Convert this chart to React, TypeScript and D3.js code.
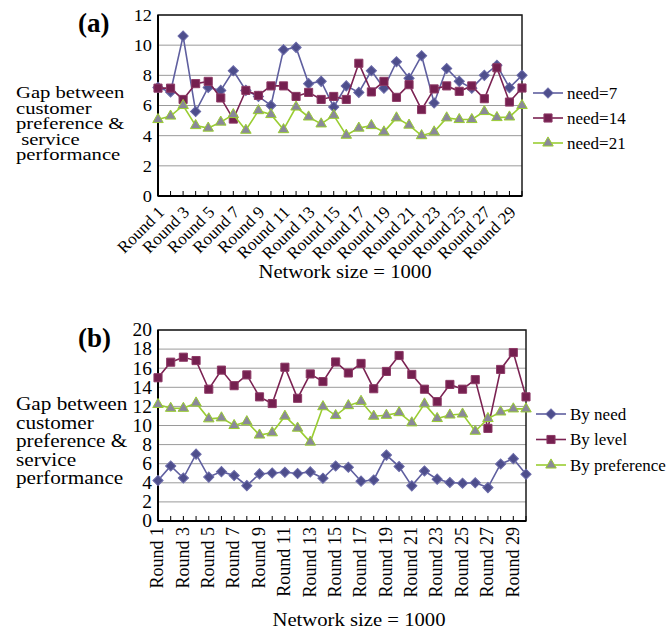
import * as d3 from "d3";

// categories
const rounds = Array.from({ length: 30 }, (_, i) => `Round ${i + 1}`);
const shownRounds = rounds.filter((_, i) => i % 2 === 0);

// panel (a)
const needNames = ["need=7", "need=14", "need=21"];
const need7 = [7.2, 6.9, 10.6, 5.6, 7.2, 7.0, 8.3, 7.0, 6.6, 6.0, 9.7, 9.85, 7.45, 7.6, 5.9, 7.3, 6.87, 8.3, 7.15, 8.9, 7.8, 9.3, 6.17, 8.45, 7.6, 7.15, 8.0, 8.67, 7.18, 8.0];
const need14 = [7.15, 7.15, 6.4, 7.45, 7.6, 6.5, 5.1, 7.0, 6.67, 7.3, 7.3, 6.6, 6.87, 6.4, 6.6, 6.4, 8.8, 6.9, 7.6, 6.54, 7.38, 5.73, 7.1, 7.3, 6.94, 7.3, 6.45, 8.5, 6.23, 7.16];
const need21 = [5.07, 5.3, 6.0, 4.67, 4.5, 4.9, 5.4, 4.36, 5.66, 5.4, 4.4, 5.9, 5.24, 4.78, 5.35, 4.03, 4.5, 4.67, 4.25, 5.18, 4.7, 4.0, 4.25, 5.18, 5.07, 5.07, 5.6, 5.2, 5.24, 6.0];

// panel (b)
const byNames = ["By need", "By level", "By preference"];
const byNeed = [4.24, 5.76, 4.5, 7.0, 4.6, 5.17, 4.76, 3.7, 4.93, 5.03, 5.1, 4.97, 5.14, 4.48, 5.76, 5.63, 4.17, 4.3, 6.9, 5.7, 3.68, 5.24, 4.38, 4.03, 3.96, 4.0, 3.5, 5.97, 6.53, 4.9];
const byLevel = [15.0, 16.63, 17.15, 16.8, 13.8, 15.8, 14.17, 15.3, 13.0, 12.3, 16.1, 12.85, 15.4, 14.6, 16.65, 15.5, 16.5, 13.85, 15.66, 17.33, 15.35, 13.8, 12.5, 14.3, 13.8, 14.8, 9.7, 15.87, 17.64, 13.0];
const byPreference = [12.2, 11.8, 11.8, 12.36, 10.7, 10.8, 10.0, 10.4, 9.0, 9.24, 10.97, 9.72, 8.26, 11.97, 11.04, 12.08, 12.53, 10.97, 11.07, 11.35, 10.28, 12.26, 10.73, 11.1, 11.2, 9.4, 10.73, 11.42, 11.74, 11.74];

const yTitle = ["Gap between", "customer", "preference &", "service", "performance"];

const lineColors = ["#5f5f9f", "#7b2252", "#9acd32"];
const markerFills = ["#4e4e8c", "#752050", "#8a889a"];
const markerStrokes = ["#6a6aa8", "#8d3a66", "#9acd32"];

const FONT = "'Liberation Serif', 'Times New Roman', serif";

const squarePath = d3.symbol().type(d3.symbolSquare).size(66)()!;
const diamondPath = d3.symbol().type(d3.symbolSquare).size(52)()!;
const trianglePath = d3.symbol().type(d3.symbolTriangle).size(48)()!;

function Marker({ k, x, y }: { k: number; x: number; y: number }) {
  const d = k === 0 ? diamondPath : k === 1 ? squarePath : trianglePath;
  const rot = k === 0 ? " rotate(45)" : "";
  return (
    <path
      d={d}
      transform={`translate(${x},${y})${rot}`}
      fill={markerFills[k]}
      stroke={markerStrokes[k]}
      strokeWidth={1}
    />
  );
}

type PanelProps = {
  tag: string;
  names: string[];
  series: number[][];
  yMax: number;
  yStep: number;
  left: number;
  right: number;
  top: number;
  bottom: number;
  slanted: boolean;
  tickFont: number;
  tagY: number;
  titleY: number;
  titleGap: number;
  titleFont: number;
  xTitleX: number;
  xTitleY: number;
  legendX: number;
  legendY: number;
  legendGap: number;
};

function Panel(p: PanelProps) {
  const x = d3.scalePoint<string>().domain(rounds).range([p.left, p.right]);
  const y = d3.scaleLinear().domain([0, p.yMax]).range([p.bottom, p.top]);
  const ticks = d3.range(0, p.yMax + 0.001, p.yStep);
  const line = d3
    .line<number>()
    .x((_, i) => x(rounds[i])!)
    .y((v) => y(v));

  return (
    <g fontFamily={FONT} fill="#000">
      <text x={78} y={p.tagY} fontSize={27} fontWeight="bold">
        ({p.tag})
      </text>

      {yTitle.map((t, i) => (
        <g key={t} transform={`translate(16,${p.titleY + i * p.titleGap}) scale(1.18,1)`}>
          <text fontSize={p.titleFont}>{p.tag === "a" && i === 3 ? "\u00a0" + t : t}</text>
        </g>
      ))}

      {ticks.map((t) => (
        <g key={t}>
          <line x1={p.left} x2={p.right} y1={y(t)} y2={y(t)} stroke="#9a9a9a" strokeWidth={1} />
          <g transform={`translate(152,${y(t)}) scale(1.08,1)`}>
            <text textAnchor="end" dy="0.35em" fontSize={p.tickFont}>
              {t}
            </text>
          </g>
        </g>
      ))}

      <rect
        x={p.left}
        y={p.top}
        width={p.right - p.left}
        height={p.bottom - p.top}
        fill="none"
        stroke="#1a1a1a"
        strokeWidth={1.5}
      />
      <line x1={p.left} x2={p.left} y1={p.top} y2={p.bottom} stroke="#000" strokeWidth={2} />
      <line x1={p.left} x2={p.right} y1={p.bottom} y2={p.bottom} stroke="#000" strokeWidth={2} />

      {rounds.map((r) => (
        <line key={r} x1={x(r)} x2={x(r)} y1={p.bottom} y2={p.bottom - 5} stroke="#000" strokeWidth={1} />
      ))}

      {shownRounds.map((r) =>
        p.slanted ? (
          <text
            key={r}
            transform={`translate(${x(r)! + 3},${p.bottom + 13}) rotate(-45)`}
            textAnchor="end"
            dy="0.35em"
            fontSize={17}
          >
            {r}
          </text>
        ) : (
          <text
            key={r}
            transform={`translate(${x(r)! - 1},${p.bottom + 6}) rotate(-90)`}
            textAnchor="end"
            dy="0.35em"
            fontSize={18}
          >
            {r}
          </text>
        ),
      )}

      <g transform={`translate(${p.xTitleX},${p.xTitleY}) scale(1.15,1)`}>
        <text textAnchor="middle" fontSize={18}>
          Network size = 1000
        </text>
      </g>

      {p.series.map((s, k) => (
        <g key={k}>
          <path d={line(s)!} fill="none" stroke={lineColors[k]} strokeWidth={1.6} />
          {s.map((v, i) => (
            <Marker key={i} k={k} x={x(rounds[i])!} y={y(v)} />
          ))}
        </g>
      ))}

      {p.names.map((n, k) => {
        const ly = p.legendY + k * p.legendGap;
        return (
          <g key={n}>
            <line x1={p.legendX} x2={p.legendX + 30} y1={ly} y2={ly} stroke={lineColors[k]} strokeWidth={1.6} />
            <Marker k={k} x={p.legendX + 15} y={ly} />
            <text x={p.legendX + 34} y={ly} dy="0.35em" fontSize={17}>
              {n}
            </text>
          </g>
        );
      })}
    </g>
  );
}

export default function App() {
  return (
    <svg
      width={670}
      height={631}
      style={{ position: "absolute", left: 0, top: 0, background: "#fff" }}
    >
      <rect width={670} height={631} fill="#fff" />
      <Panel
        tag="a"
        names={needNames}
        series={[need7, need14, need21]}
        yMax={12}
        yStep={2}
        left={158}
        right={522}
        top={15}
        bottom={196}
        slanted={true}
        tickFont={17}
        tagY={32}
        titleY={98}
        titleGap={15.5}
        titleFont={17.5}
        xTitleX={345}
        xTitleY={278}
        legendX={533}
        legendY={93}
        legendGap={25}
      />
      <Panel
        tag="b"
        names={byNames}
        series={[byNeed, byLevel, byPreference]}
        yMax={20}
        yStep={2}
        left={158}
        right={526}
        top={330}
        bottom={521}
        slanted={false}
        tickFont={18}
        tagY={347}
        titleY={410}
        titleGap={18.6}
        titleFont={18}
        xTitleX={359}
        xTitleY={626}
        legendX={536}
        legendY={414}
        legendGap={25.5}
      />
    </svg>
  );
}
